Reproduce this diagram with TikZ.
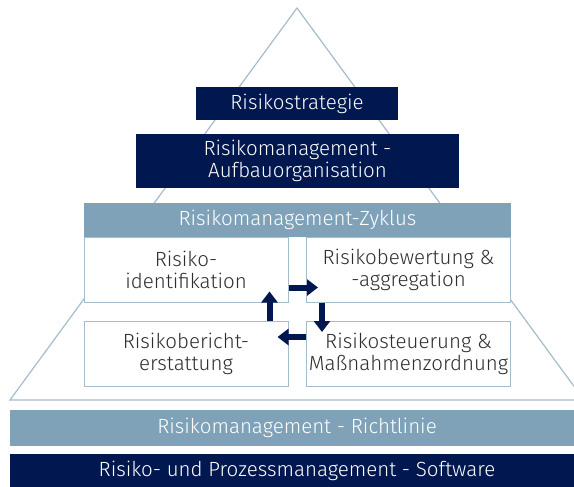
\documentclass[tikz,border=0pt]{standalone}
\usepackage{fontspec}
\setmainfont{Fira Sans}[UprightFont=* Light]
\usetikzlibrary{arrows.meta,calc}

\definecolor{navy}{HTML}{00174F}
\definecolor{steel}{HTML}{7FA2B8}
\definecolor{frame}{HTML}{A5BCCB}
\definecolor{txt}{HTML}{2E2E2E}

\begin{document}
\begin{tikzpicture}[x=1pt,y=-1pt,>={Triangle[length=11pt,width=16pt]},
  box font/.style={font=\fontsize{20.5}{22}\selectfont},
  dark node/.style={box font,fill=navy,text=white,inner sep=0pt,align=center},
  bar node/.style={box font,fill=steel,text=white,inner sep=0pt,align=center},
  cell node/.style={box font,draw=frame,fill=white,text=txt,line width=1pt,
    inner sep=0pt,align=center,minimum width=204pt,minimum height=65pt},
  cyc/.style={->,draw=navy,line width=6pt}]
  \useasboundingbox (0,0) rectangle (574,487);
  \clip (0,0) rectangle (574,487);

  % pyramid outline
  \draw[frame,line width=1.2pt] (297,8) -- (584,400) -- (10,400) -- cycle;

  % top levels
  \node[dark node,minimum width=202pt,minimum height=33pt] (strat) at (297,103.5) {Risikostrategie};
  \node[dark node,minimum width=323pt,minimum height=54pt] (aufbau) at (297.5,161)
    {Risikomanagement -\\Aufbauorganisation};

  % the cycle
  \node[bar node,minimum width=427pt,minimum height=34pt] (zyklus) at (297.5,220) {Risikomanagement-Zyklus};
  \node[cell node] (ident) at (186,269.5) {Risiko-\\identifikation};
  \node[cell node] (bew)   at (408.5,269.5) {Risikobewertung \&\\-aggregation};
  \node[cell node] (ber)   at (186,354) {Risikobericht-\\erstattung};
  \node[cell node] (steu)  at (408.5,354) {Risikosteuerung \&\\Maßnahmenzordnung};

  \draw[cyc] ($(ident.south east)+(0,-15)$) -- ($(bew.south west)+(12,-15)$);
  \draw[cyc] ($(bew.south west)+(16,0)$) -- ($(steu.north west)+(16,11)$);
  \draw[cyc] ($(steu.north west)+(0,16)$) -- ($(ber.north east)+(-11,16)$);
  \draw[cyc] ($(ber.north east)+(-19,0)$) -- ($(ident.south east)+(-19,-11)$);

  % base
  \node[bar node,minimum width=574pt,minimum height=36pt] (richt) at (297,428) {Risikomanagement - Richtlinie};
  \node[dark node,minimum width=574pt,minimum height=34pt] (soft) at (297,471) {Risiko- und Prozessmanagement - Software};
\end{tikzpicture}
\end{document}
